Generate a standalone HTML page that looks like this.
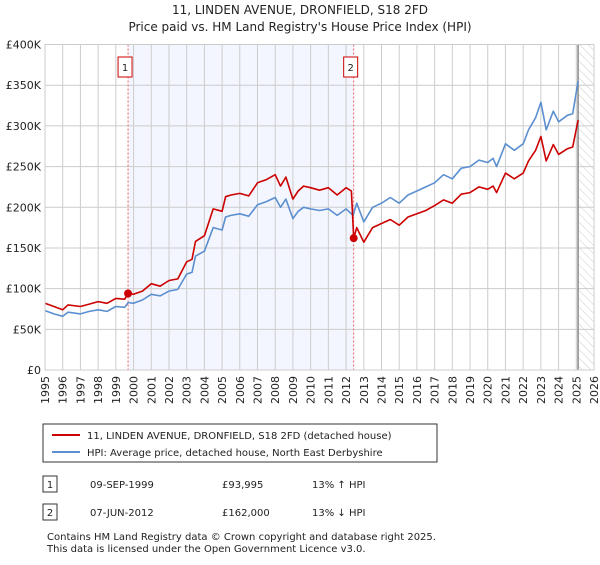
<!DOCTYPE html>
<html><head><meta charset="utf-8"><style>
body{margin:0;background:#fff;font-family:"Liberation Sans",sans-serif;}
svg text{font-family:"DejaVu Sans","Liberation Sans",sans-serif;}
</style></head><body>
<svg width="600" height="560" viewBox="0 0 600 560" xmlns="http://www.w3.org/2000/svg">
<text x="300" y="14" text-anchor="middle" font-size="12" fill="#222">11, LINDEN AVENUE, DRONFIELD, S18 2FD</text>
<text x="300" y="31" text-anchor="middle" font-size="12" fill="#222">Price paid vs. HM Land Registry's House Price Index (HPI)</text>
<defs><pattern id="hatch" width="6" height="6" patternUnits="userSpaceOnUse" patternTransform="rotate(-45)"><line x1="0" y1="0" x2="0" y2="6" stroke="#ccc" stroke-width="1"/></pattern></defs>
<g id="plot"></g>
<g id="legend">
<rect x="43" y="424" width="394" height="38" fill="#fff" stroke="#333"/>
<line x1="52" y1="435" x2="80" y2="435" stroke="#cc0000" stroke-width="2"/>
<text x="87" y="439" font-size="10" fill="#222">11, LINDEN AVENUE, DRONFIELD, S18 2FD (detached house)</text>
<line x1="52" y1="452" x2="80" y2="452" stroke="#5b8fd0" stroke-width="2"/>
<text x="87" y="456" font-size="10" fill="#222">HPI: Average price, detached house, North East Derbyshire</text>
</g>
<g font-size="10" fill="#222">
<rect x="43" y="476" width="14" height="16" fill="#fff" stroke="#333"/><text x="50" y="488" text-anchor="middle">1</text>
<text x="90" y="488">09-SEP-1999</text><text x="222" y="488">£93,995</text><text x="312" y="488">13% ↑ HPI</text>
<rect x="43" y="504" width="14" height="16" fill="#fff" stroke="#333"/><text x="50" y="516" text-anchor="middle">2</text>
<text x="90" y="516">07-JUN-2012</text><text x="222" y="516">£162,000</text><text x="312" y="516">13% ↓ HPI</text>
</g>
<text x="47" y="540" font-size="10" fill="#222">Contains HM Land Registry data © Crown copyright and database right 2025.</text>
<text x="47" y="552" font-size="10" fill="#222">This data is licensed under the Open Government Licence v3.0.</text>
</svg>
<script>
const years=[1995,1996,1997,1998,1999,2000,2001,2002,2003,2004,2005,2006,2007,2008,2009,2010,2011,2012,2013,2014,2015,2016,2017,2018,2019,2020,2021,2022,2023,2024,2025,2026];
const yTicks=[0,50000,100000,150000,200000,250000,300000,350000,400000];
const yTickLabels=["£0","£50K","£100K","£150K","£200K","£250K","£300K","£350K","£400K"];
const hpiDates=[1995,1995.5,1996,1996.3,1997,1997.5,1998,1998.5,1999,1999.5,1999.7,2000,2000.5,2001,2001.5,2002,2002.5,2003,2003.3,2003.5,2004,2004.5,2005,2005.2,2005.5,2006,2006.5,2007,2007.5,2008,2008.3,2008.6,2009,2009.3,2009.6,2010,2010.5,2011,2011.5,2012,2012.4,2012.6,2013,2013.5,2014,2014.5,2015,2015.5,2016,2016.5,2017,2017.5,2018,2018.5,2019,2019.5,2020,2020.3,2020.5,2021,2021.5,2022,2022.3,2022.7,2023,2023.3,2023.7,2024,2024.5,2024.8,2025.1];
const hpiValues=[73,69,66,71,69,72,74,72,78,77,83,82,86,93,91,97,99,118,120,140,146,175,172,188,190,192,189,203,207,212,200,210,186,195,200,198,196,198,190,198,190,205,182,200,205,212,205,215,220,225,230,240,235,248,250,258,255,260,250,278,270,278,295,310,329,295,318,305,313,315,355];
const redDates=[1995,1995.5,1996,1996.3,1997,1997.5,1998,1998.5,1999,1999.5,1999.69,2000,2000.5,2001,2001.5,2002,2002.5,2003,2003.3,2003.5,2004,2004.5,2005,2005.2,2005.5,2006,2006.5,2007,2007.5,2008,2008.3,2008.6,2009,2009.3,2009.6,2010,2010.5,2011,2011.5,2012,2012.3,2012.43,2012.6,2013,2013.5,2014,2014.5,2015,2015.5,2016,2016.5,2017,2017.5,2018,2018.5,2019,2019.5,2020,2020.3,2020.5,2021,2021.5,2022,2022.3,2022.7,2023,2023.3,2023.7,2024,2024.5,2024.8,2025.1];
const redValues=[82,78,74,80,78,81,84,82,88,87,94,93,97,106,103,110,112,133,136,158,165,198,195,213,215,217,214,230,234,240,226,237,210,220,226,224,221,224,215,224,220,162,175,157,175,180,185,178,188,192,196,202,209,205,216,218,225,222,226,218,242,235,242,257,270,287,257,277,265,272,274,307];
const sales=[[1999.69,93995,"1"],[2012.43,162000,"2"]];
const X0=45,X1=594,Y0=370,Y1=44.5;
const xs=t=>X0+(t-1995)/(2026-1995)*(X1-X0);
const ys=v=>Y0-v/400000*(Y0-Y1);
const ns="http://www.w3.org/2000/svg";
const g=document.getElementById('plot');
function mk(tag,attrs,parent){const e=document.createElementNS(ns,tag);for(const k in attrs)e.setAttribute(k,attrs[k]);(parent||g).appendChild(e);return e;}
let e;
e=mk('rect',{x:xs(sales[0][0]),y:Y1,width:xs(sales[1][0])-xs(sales[0][0]),height:Y0-Y1,fill:'#f3f6fe'});


e=mk('rect',{x:xs(2025.1),y:Y1,width:X1-xs(2025.1),height:Y0-Y1,fill:'url(#hatch)'});


years.forEach(y=>{
 e=mk('line',{x1:xs(y),x2:xs(y),y1:Y1,y2:Y0,stroke:'#ccc','stroke-width':1});
 
 
 e=mk('text',{x:0,y:0,'font-size':11,fill:'#222','text-anchor':'end',transform:`translate(${xs(y)+4},${Y0+6}) rotate(-90)`});
 e.textContent=y;
 
 
});
yTicks.forEach((v,i)=>{
 e=mk('line',{x1:X0,x2:X1,y1:ys(v),y2:ys(v),stroke:'#ccc','stroke-width':1});
 
 
 e=mk('text',{x:X0-4,y:ys(v)+4,'font-size':11,fill:'#222','text-anchor':'end'});
 e.textContent=yTickLabels[i];
 
 
});
e=mk('line',{x1:xs(2025.1),x2:xs(2025.1),y1:Y1,y2:Y0,stroke:'#888','stroke-width':1.5});


sales.forEach(s=>{
 e=mk('line',{x1:xs(s[0]),x2:xs(s[0]),y1:Y1,y2:Y0,stroke:'#f06060','stroke-width':1,'stroke-dasharray':'2,2'});
 
 
 e=mk('rect',{x:xs(s[0])-10,y:57,width:14,height:20,fill:'#fff',stroke:'#cc0000'});
 
 
 e=mk('text',{x:xs(s[0])-3,y:71,'font-size':10,fill:'#222','text-anchor':'middle'});
 e.textContent=s[2];
 
 
});
function line(d,v,col,name){
 const p=d.map((t,i)=>(i?'L':'M')+xs(t).toFixed(1)+','+ys(v[i]*1000).toFixed(1)).join('');
 e=mk('path',{d:p,fill:'none',stroke:col,'stroke-width':1.6,'stroke-linejoin':'round'});
 
 
}
line(hpiDates,hpiValues,'#5b8fd0','hpi-line');
line(redDates,redValues,'#cc0000','property-line');
sales.forEach(s=>{
 e=mk('circle',{cx:xs(s[0]),cy:ys(s[1]),r:4,fill:'#cc0000'});
 
 
});
e=mk('rect',{x:X0,y:Y1,width:X1-X0,height:Y0-Y1,fill:'none',stroke:'#ccc'});


</script>
</body></html>
